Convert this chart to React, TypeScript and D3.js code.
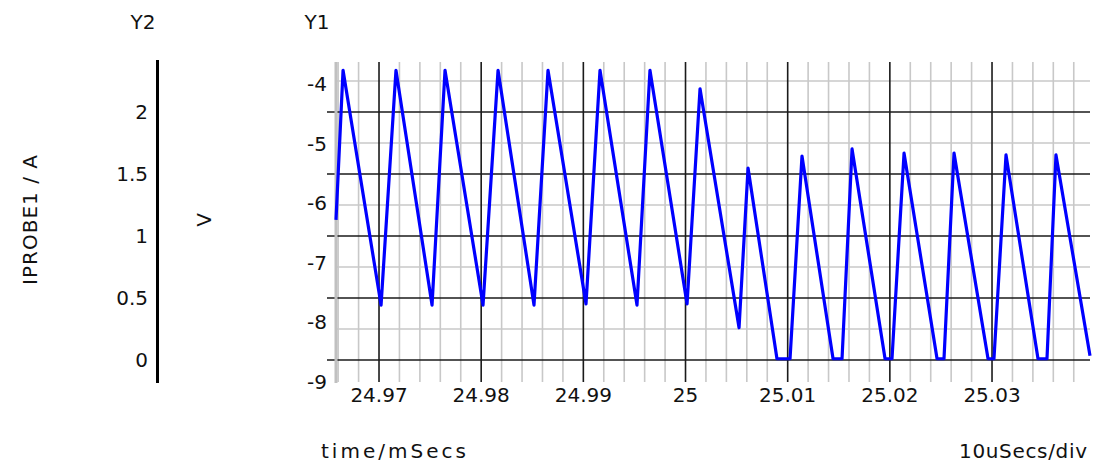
import React from "react";
import * as d3 from "d3";

// ---- data (time in mSecs, voltage in V) ----
const traceTime: number[] = [
  24.96579, 24.96648, 24.9702, 24.97166, 24.97519, 24.97646, 24.98018, 24.98165,
  24.98517, 24.98654, 24.99026, 24.99163, 24.99525, 24.99652, 25.00015, 25.00142,
  25.00524, 25.00612, 25.00895, 25.01023, 25.0114, 25.01444, 25.01532, 25.0163,
  25.01953, 25.02021, 25.02139, 25.02462, 25.0253, 25.02628, 25.02961, 25.03019,
  25.03137, 25.0345, 25.03538, 25.03626, 25.03959,
];
const traceVolts: number[] = [
  -6.28, -3.77, -7.71, -3.77, -7.71, -3.77, -7.71, -3.77,
  -7.71, -3.77, -7.69, -3.77, -7.71, -3.77, -7.69, -4.08,
  -8.09, -5.41, -8.61, -8.61, -5.21, -8.61, -8.61, -5.09,
  -8.61, -8.61, -5.16, -8.61, -8.61, -5.16, -8.61, -8.61,
  -5.19, -8.61, -8.61, -5.19, -8.56,
];

const xMajorTicks: number[] = [24.97, 24.98, 24.99, 25.0, 25.01, 25.02, 25.03];
const xTickLabels: string[] = ["24.97", "24.98", "24.99", "25", "25.01", "25.02", "25.03"];
const xMinorTicks: number[] = [
  24.966, 24.968, 24.972, 24.974, 24.976, 24.978, 24.982, 24.984, 24.986, 24.988,
  24.992, 24.994, 24.996, 24.998, 25.002, 25.004, 25.006, 25.008, 25.012, 25.014,
  25.016, 25.018, 25.022, 25.024, 25.026, 25.028, 25.032, 25.034, 25.036, 25.038,
];
const y1TickLabels: string[] = ["-4", "-5", "-6", "-7", "-8", "-9"];
const y2MajorTicks: number[] = [0, 0.5, 1, 1.5, 2];
const y2TickLabels: string[] = ["0", "0.5", "1", "1.5", "2"];
const y2MinorTicks: number[] = [0.25, 0.75, 1.25, 1.75, 2.25];

const W = 1099;
const H = 463;
const plotLeft = 336;
const plotRight = 1090;
const plotTop = 62;
const plotBottom = 382;
const FONT = "'DejaVu Sans', sans-serif";
const FS = 20;

export default function App() {
  const x = d3.scaleLinear().domain([24.96579, 25.03959]).range([plotLeft, plotRight]);
  const y1 = d3.scaleLinear().domain([-9, -3.631]).range([plotBottom, plotTop]);
  const y2 = d3.scaleLinear().domain([-0.177, 2.403]).range([plotBottom, plotTop]);
  const y1Label = d3.scalePoint<string>().domain(y1TickLabels).range([84, 382]);

  const line = d3
    .line<number>()
    .x((_, i) => x(traceTime[i]))
    .y((d) => y1(d));

  return (
    <svg
      width={W}
      height={H}
      style={{ position: "absolute", left: 0, top: 0, background: "#fff" }}
      fontFamily={FONT}
      fontSize={FS}
    >
      <rect x={0} y={0} width={W} height={H} fill="#fff" />
      {/* minor vertical grid */}
      {xMinorTicks.map((t) => (
        <line key={"xm" + t} x1={x(t)} x2={x(t)} y1={plotTop} y2={plotBottom} stroke="#c8c8c8" strokeWidth={1.6} />
      ))}
      {/* minor horizontal grid */}
      {y2MinorTicks.map((v) => (
        <line key={"ym" + v} x1={plotLeft} x2={plotRight} y1={y2(v)} y2={y2(v)} stroke="#c8c8c8" strokeWidth={1.6} />
      ))}
      {/* major vertical grid */}
      {xMajorTicks.map((t) => (
        <line key={"xM" + t} x1={x(t)} x2={x(t)} y1={plotTop} y2={plotBottom} stroke="#1a1a1a" strokeWidth={1.6} />
      ))}
      {/* major horizontal grid */}
      {y2MajorTicks.map((v) => (
        <line key={"yM" + v} x1={plotLeft - 9} x2={plotRight} y1={y2(v)} y2={y2(v)} stroke="#1a1a1a" strokeWidth={1.6} />
      ))}
      {/* left Y1 axis line */}
      <line x1={plotLeft} x2={plotLeft} y1={plotTop} y2={plotBottom + 1} stroke="#c0c0c0" strokeWidth={3} />

      {/* trace */}
      <path d={line(traceVolts) || ""} fill="none" stroke="#0000ff" strokeWidth={3.2} strokeLinejoin="round" />

      {/* x labels */}
      {xMajorTicks.map((t, i) => (
        <text key={"xl" + t} x={x(t)} y={402} textAnchor="middle" fill="#111">
          {xTickLabels[i]}
        </text>
      ))}
      {/* Y1 labels */}
      {y1TickLabels.map((l) => (
        <text key={"y1l" + l} x={327} y={(y1Label(l) as number) + 7} textAnchor="end" fill="#111">
          {l}
        </text>
      ))}
      {/* Y2 axis */}
      <line x1={157.5} x2={157.5} y1={60} y2={383} stroke="#000" strokeWidth={3} />
      {y2MajorTicks.map((v, i) => (
        <text key={"y2l" + v} x={148} y={y2(v) + 7} textAnchor="end" fill="#111">
          {y2TickLabels[i]}
        </text>
      ))}

      {/* titles */}
      <text x={143} y={29} textAnchor="middle" fill="#111">Y2</text>
      <text x={317} y={29} textAnchor="middle" fill="#111">Y1</text>
      <text transform="translate(37,220) rotate(-90)" textAnchor="middle" fill="#111" textLength={130} lengthAdjust="spacing">IPROBE1 / A</text>
      <text transform="translate(211,220) rotate(-90)" textAnchor="middle" fill="#111">V</text>
      <text x={321} y={458} textAnchor="start" fill="#111" textLength={145} lengthAdjust="spacing">time/mSecs</text>
      <text x={1087} y={458} textAnchor="end" fill="#111" textLength={128} lengthAdjust="spacing">10uSecs/div</text>
    </svg>
  );
}
